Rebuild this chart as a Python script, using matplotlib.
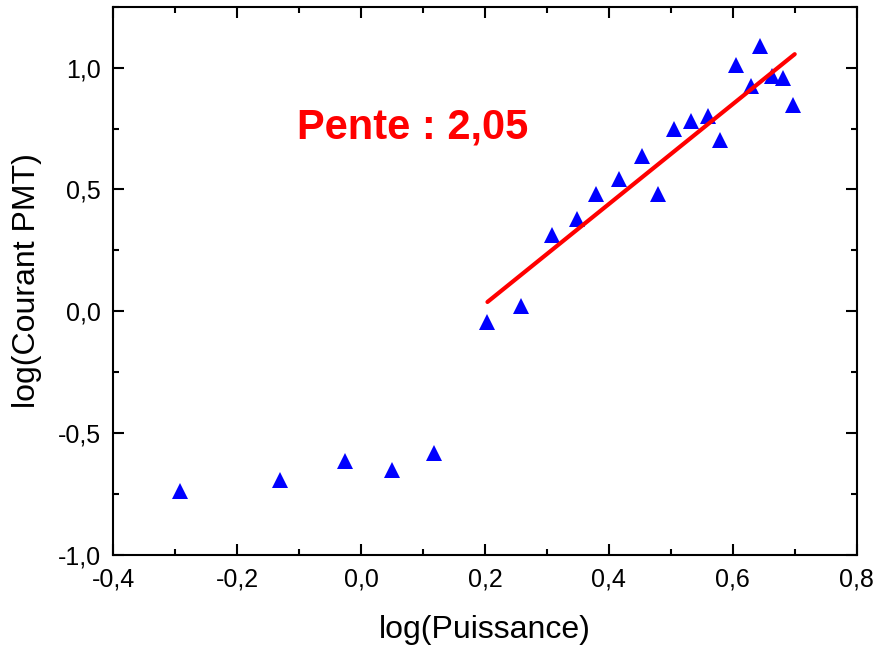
import matplotlib
matplotlib.use("Agg")
import matplotlib.pyplot as plt
from matplotlib.ticker import FuncFormatter, MultipleLocator

plt.rcParams["font.family"] = ["Liberation Sans", "DejaVu Sans"]

# data
log_puissance = [-0.292, -0.131, -0.026, 0.050, 0.118,
                 0.204, 0.258, 0.308, 0.349, 0.380, 0.417, 0.453, 0.480,
                 0.505, 0.532, 0.560, 0.580, 0.606, 0.629, 0.644, 0.664,
                 0.681, 0.698]
log_courant = [-0.738, -0.693, -0.615, -0.652, -0.582,
               -0.044, 0.020, 0.311, 0.378, 0.480, 0.544, 0.639, 0.480,
               0.750, 0.780, 0.801, 0.701, 1.009, 0.925, 1.087, 0.966,
               0.956, 0.848]

# linear fit shown in red
fit_slope = 2.05
fit_intercept = -0.380
fit_x = [0.204, 0.700]
fit_y = [fit_slope * v + fit_intercept for v in fit_x]


def comma(v, pos):
    return f"{v:.1f}".replace(".", ",")


fig = plt.figure(figsize=(8.77, 6.46), dpi=100)
ax = fig.add_axes([0.1292, 0.1409, 0.8476, 0.8488])

ax.plot(log_puissance, log_courant, linestyle="none", marker="^",
        markersize=11, color="#0000ff", markeredgewidth=0)
ax.plot(fit_x, fit_y, color="#ff0000", linewidth=3, solid_capstyle="round")

ax.text(-0.103, 0.709, "Pente : 2,05", color="#ff0000", fontsize=30,
        fontweight="bold", ha="left", va="baseline")

ax.set_xlim(-0.4, 0.8)
ax.set_ylim(-1.0, 1.25)
ax.xaxis.set_major_locator(MultipleLocator(0.2))
ax.xaxis.set_minor_locator(MultipleLocator(0.1))
ax.yaxis.set_major_locator(MultipleLocator(0.5))
ax.yaxis.set_minor_locator(MultipleLocator(0.25))
ax.xaxis.set_major_formatter(FuncFormatter(comma))
ax.yaxis.set_major_formatter(FuncFormatter(comma))

for s in ax.spines.values():
    s.set_linewidth(1.5)
ax.tick_params(which="both", direction="in", top=True, right=True, width=1.5)
ax.tick_params(which="major", length=8, labelsize=18, pad=9)
ax.tick_params(which="minor", length=4)

ax.set_xlabel("log(Puissance)", fontsize=23, labelpad=17)
ax.set_ylabel("log(Courant PMT)", fontsize=23, labelpad=11)

fig.savefig("out.png", dpi=100)
